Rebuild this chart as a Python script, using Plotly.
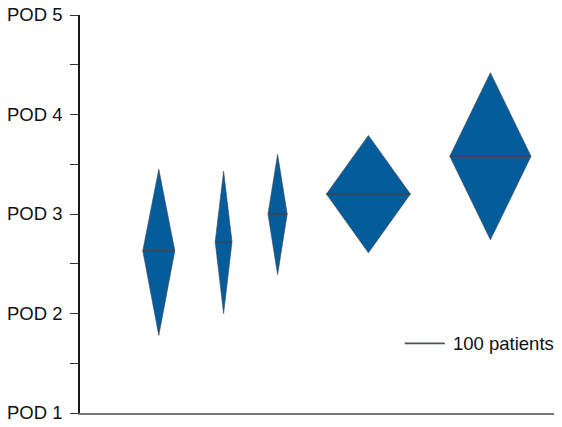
import plotly.graph_objects as go

# Data
study_pos = [197, 359, 494, 721, 1026]          # horizontal position of each study
pod_mean = [2.63, 2.72, 3.00, 3.20, 3.58]
pod_lower = [1.78, 2.00, 2.39, 2.61, 2.74]
pod_upper = [3.45, 3.43, 3.60, 3.79, 4.42]
patients = [80, 42, 48, 210, 203]               # diamond width = number of patients

tick_vals = [1, 1.5, 2, 2.5, 3, 3.5, 4, 4.5, 5]
tick_text = ["POD 1", "", "POD 2", "", "POD 3", "", "POD 4", "", "POD 5"]

legend_patients = 100
legend_start = 812
legend_y = 1.70

FILL = "#055c9b"
EDGE = "#3c4550"

fig = go.Figure()
for x, m, lo, hi, n in zip(study_pos, pod_mean, pod_lower, pod_upper, patients):
    h = n / 2
    fig.add_trace(go.Scatter(
        x=[x - h, x, x + h, x, x - h], y=[m, hi, m, lo, m],
        mode="lines", fill="toself", fillcolor=FILL,
        line=dict(color=EDGE, width=0.6), hoverinfo="skip", showlegend=False))
    fig.add_trace(go.Scatter(
        x=[x - h, x + h], y=[m, m], mode="lines",
        line=dict(color=EDGE, width=1.6), hoverinfo="skip", showlegend=False))

fig.add_trace(go.Scatter(
    x=[legend_start, legend_start + legend_patients], y=[legend_y, legend_y],
    mode="lines", line=dict(color="#4a5560", width=1.6), showlegend=False, hoverinfo="skip"))
fig.add_annotation(x=legend_start + legend_patients + 15, y=legend_y, text="100 patients",
                   showarrow=False, xanchor="left", yanchor="middle",
                   font=dict(size=18.5, color="#111111", family="Liberation Sans, Arial, sans-serif"))

# page body has an 8px margin, so the figure is sized to fit inside the 562x427 window
fig.update_layout(
    width=546, height=411,
    margin=dict(l=72, r=0, t=7, b=6),
    paper_bgcolor="white", plot_bgcolor="white",
    font=dict(family="Liberation Sans, Arial, sans-serif", size=18.5, color="#111111"),
    xaxis=dict(range=[0, 1185], showgrid=False, zeroline=False, showticklabels=False,
               ticks="", showline=True, linecolor="#777777", linewidth=2, fixedrange=True),
    yaxis=dict(range=[1, 5], showgrid=False, zeroline=False, tickvals=tick_vals,
               ticktext=tick_text, ticks="outside", ticklen=8, tickcolor="#333333",
               showline=True, linecolor="#1a1a1a", linewidth=1.5,
               ticklabelstandoff=4, ticklabeloverflow="allow", automargin=False),
)

fig.write_html("out.html")
